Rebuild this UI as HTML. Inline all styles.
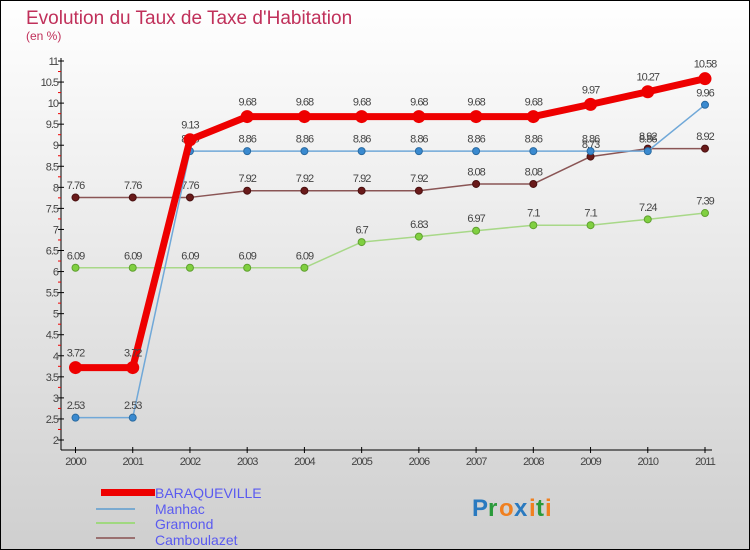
<!DOCTYPE html>
<html><head><meta charset="utf-8"><style>
body{margin:0}
#c{width:750px;height:550px;position:relative;overflow:hidden;font-family:"Liberation Sans",sans-serif}
</style></head><body>
<div id="c">
<svg width="750" height="550" xmlns="http://www.w3.org/2000/svg">
<defs><linearGradient id="bg" x1="0" y1="0" x2="0" y2="1"><stop offset="0" stop-color="#ffffff"/><stop offset="1" stop-color="#cfcfcf"/></linearGradient></defs>
<rect x="0.5" y="0.5" width="749" height="549" fill="url(#bg)" stroke="#000"/>
<text x="26" y="24" font-size="19" fill="#c0305a">Evolution du Taux de Taxe d'Habitation</text>
<text x="26" y="40" font-size="12" fill="#c0305a">(en %)</text>
<g id="axes"></g>
<g id="series"></g>
<g>
<rect x="101" y="489" width="54" height="7" fill="#e00"/>
<text x="155" y="498" font-size="14" fill="#5a5af0">BARAQUEVILLE</text>
<line x1="96" y1="509" x2="135" y2="509" stroke="#7aaad0" stroke-width="2"/>
<text x="155" y="514" font-size="14" fill="#5a5af0">Manhac</text>
<line x1="96" y1="523" x2="135" y2="523" stroke="#a0d880" stroke-width="2"/>
<text x="155" y="529" font-size="14" fill="#5a5af0">Gramond</text>
<line x1="96" y1="538" x2="135" y2="538" stroke="#9a7070" stroke-width="2"/>
<text x="155" y="545" font-size="14" fill="#5a5af0">Camboulazet</text>
</g>
<g font-size="24" font-weight="bold">
<text x="472" y="516" fill="#2a7ac0">P</text><text x="488" y="516" fill="#2a9a3a">r</text><text x="499" y="516" fill="#f08020">o</text><text x="514" y="516" fill="#2a7ac0">x</text><text x="529" y="516" fill="#f08020">i</text><text x="536" y="516" fill="#2a9a3a">t</text><text x="545" y="516" fill="#f08020">i</text>
</g>
</svg>
</div>
<script>
const years=["2000","2001","2002","2003","2004","2005","2006","2007","2008","2009","2010","2011"];
const yTicks=[2,2.5,3,3.5,4,4.5,5,5.5,6,6.5,7,7.5,8,8.5,9,9.5,10,10.5,11];
const baraqueville=[3.72,3.72,9.13,9.68,9.68,9.68,9.68,9.68,9.68,9.97,10.27,10.58];
const manhac=[2.53,2.53,8.86,8.86,8.86,8.86,8.86,8.86,8.86,8.86,8.86,9.96];
const gramond=[6.09,6.09,6.09,6.09,6.09,6.7,6.83,6.97,7.1,7.1,7.24,7.39];
const camboulazet=[7.76,7.76,7.76,7.92,7.92,7.92,7.92,8.08,8.08,8.73,8.92,8.92];
const NS="http://www.w3.org/2000/svg";
function xs(i){return 75.5+i*(705-75.5)/(years.length-1);}
function ys(v){return 440-(v-2)*(440-61)/9;}
function mk(tag,attrs,parent,txt){const e=document.createElementNS(NS,tag);for(const k in attrs)e.setAttribute(k,attrs[k]);if(txt!==undefined)e.textContent=txt;parent.appendChild(e);return e;}
const axes=document.getElementById('axes');
let e=mk('line',{x1:61,y1:58,x2:61,y2:450,stroke:'#000','stroke-width':1},axes);


e=mk('line',{x1:61,y1:450,x2:712,y2:450,stroke:'#000','stroke-width':1},axes);


yTicks.forEach((v,i)=>{const y=ys(v);
 const t=mk('line',{x1:58,y1:y,x2:64,y2:y,stroke:'#000'},axes);
 
 
 if(i<yTicks.length-1){const m=mk('line',{x1:58,y1:(y+ys(yTicks[i+1]))/2,x2:61,y2:(y+ys(yTicks[i+1]))/2,stroke:'#e00'},axes);
 
 }
 const l=mk('text',{x:58,y:y+4,'font-size':11,fill:'#444','text-anchor':'end','letter-spacing':'-1'},axes,String(v));
 
 
});
years.forEach((yr,i)=>{const x=xs(i);
 const t=mk('line',{x1:x,y1:447,x2:x,y2:453,stroke:'#000'},axes);
 
 
 const l=mk('text',{x:x,y:465,'font-size':11,fill:'#444','text-anchor':'middle','letter-spacing':'-1'},axes,yr);
 
 
});
const sg=document.getElementById('series');
function draw(name,vals,color,lw,r,dot,dotStroke){
 const g=mk('g',{},sg);
 
 
 const pl=mk('polyline',{points:vals.map((v,i)=>xs(i)+','+ys(v)).join(' '),fill:'none',stroke:color,'stroke-width':lw,'stroke-linejoin':'round'},g);
 
 
 vals.forEach((v,i)=>{
  const c=mk('circle',{cx:xs(i),cy:ys(v),r:r,fill:dot,stroke:dotStroke,'stroke-width':1},g);
  
  
  const t=mk('text',{x:xs(i),y:ys(v)-(r+5),'font-size':11,fill:'#444','text-anchor':'middle','letter-spacing':'-1'},g,String(v));
  
  
 });
}
draw('camboulazet',camboulazet,'#8a5555',1.5,3.5,'#6a1a1a','#4a1010');
draw('gramond',gramond,'#a8d888',1.5,3.5,'#80d040','#60a030');
draw('manhac',manhac,'#70a8d8',1.5,3.5,'#3a8ad0','#2a6aa0');
draw('baraqueville',baraqueville,'#ee0000',7,6,'#ee0000','#ee0000');
</script>
</body></html>
